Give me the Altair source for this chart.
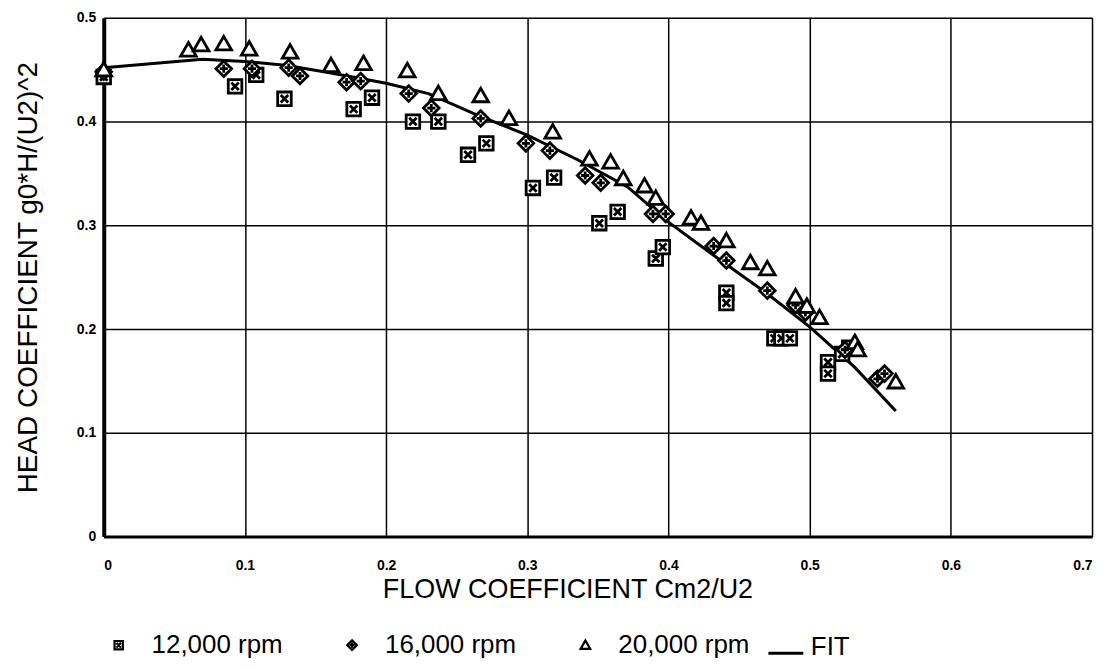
import altair as alt
import pandas as pd

# ---- data ----
x_12k = [0.0, 0.093, 0.108, 0.128, 0.177, 0.190, 0.219, 0.237, 0.258, 0.271, 0.304, 0.319,
         0.351, 0.364, 0.391, 0.396, 0.441, 0.441, 0.475, 0.480, 0.486, 0.513, 0.513, 0.523, 0.528]
y_12k = [0.443, 0.434, 0.445, 0.422, 0.412, 0.423, 0.400, 0.400, 0.368, 0.379, 0.336, 0.346,
         0.302, 0.313, 0.268, 0.279, 0.235, 0.225, 0.191, 0.191, 0.191, 0.168, 0.157, 0.176, 0.182]

x_16k = [0.0, 0.085, 0.105, 0.131, 0.139, 0.172, 0.182, 0.216, 0.232, 0.267, 0.299, 0.316,
         0.341, 0.352, 0.389, 0.398, 0.432, 0.441, 0.470, 0.490, 0.497, 0.525, 0.548, 0.553]
y_16k = [0.448, 0.451, 0.451, 0.452, 0.444, 0.438, 0.439, 0.427, 0.413, 0.403, 0.379, 0.372,
         0.348, 0.341, 0.311, 0.311, 0.280, 0.266, 0.237, 0.223, 0.216, 0.180, 0.152, 0.157]

x_20k = [0.0, 0.060, 0.069, 0.085, 0.103, 0.132, 0.161, 0.184, 0.215, 0.237, 0.267, 0.287,
         0.318, 0.344, 0.359, 0.368, 0.383, 0.391, 0.416, 0.423, 0.441, 0.458, 0.470, 0.490,
         0.498, 0.507, 0.532, 0.534, 0.561]
y_20k = [0.450, 0.469, 0.474, 0.475, 0.470, 0.467, 0.454, 0.456, 0.449, 0.427, 0.425, 0.403,
         0.390, 0.364, 0.361, 0.345, 0.338, 0.326, 0.307, 0.302, 0.285, 0.264, 0.258, 0.231,
         0.222, 0.211, 0.187, 0.180, 0.149]

x_fit = [0.0, 0.07, 0.10, 0.13, 0.16, 0.20, 0.23, 0.265, 0.30, 0.336, 0.371, 0.40, 0.43,
         0.47, 0.50, 0.532, 0.561]
y_fit = [0.452, 0.460, 0.458, 0.454, 0.447, 0.437, 0.427, 0.406, 0.387, 0.363, 0.337, 0.303,
         0.273, 0.234, 0.202, 0.163, 0.121]

series_names = ["12,000 rpm", "16,000 rpm", "20,000 rpm"]
x_ticks = [0, 0.1, 0.2, 0.3, 0.4, 0.5, 0.6, 0.7]
y_ticks = [0, 0.1, 0.2, 0.3, 0.4, 0.5]

# ---- tables ----
pts = pd.concat([
    pd.DataFrame({"x": x_12k, "y": y_12k, "series": series_names[0]}),
    pd.DataFrame({"x": x_16k, "y": y_16k, "series": series_names[1]}),
    pd.DataFrame({"x": x_20k, "y": y_20k, "series": series_names[2]}),
], ignore_index=True)
fit = pd.DataFrame({"x": x_fit, "y": y_fit, "series": "FIT"})

square_x = "M-1,-1H1V1H-1Z M-0.55,-0.55L0.55,0.55 M-0.55,0.55L0.55,-0.55"
diamond_plus = "M0,-1.15L1.15,0L0,1.15L-1.15,0Z M0,-0.6V0.6 M-0.6,0H0.6"
triangle = "M0,-1.1L1.15,0.9H-1.15Z"
fit_symbol = "M-1,0.35H1"

FONT = "Liberation Sans"

xs = alt.Scale(domain=[0, 0.7], nice=False, zero=False)
ys = alt.Scale(domain=[0, 0.5], nice=False, zero=False)

x_axis = alt.Axis(values=x_ticks, title="FLOW COEFFICIENT Cm2/U2", format="~g",
                  labelFontSize=14, labelFontWeight="bold", labelPadding=22,
                  ticks=False, grid=True, gridColor="black", gridWidth=1.5, gridOpacity=1,
                  domainColor="black", domainWidth=3,
                  titleFontSize=27, titleFontWeight="normal", titlePadding=4, titleX=465,
                  labelFont=FONT, titleFont=FONT, labelColor="black", titleColor="black")
y_axis = alt.Axis(values=y_ticks, title="HEAD COEFFICIENT g0*H/(U2)^2", format="~g",
                  labelFontSize=14, labelFontWeight="bold", labelPadding=8,
                  ticks=False, grid=True, gridColor="black", gridWidth=1.5, gridOpacity=1,
                  domainColor="black", domainWidth=4,
                  titleFontSize=28, titleFontWeight="normal", titlePadding=34,
                  labelFont=FONT, titleFont=FONT, labelColor="black", titleColor="black")

line = alt.Chart(fit).mark_line(strokeWidth=3).encode(
    x=alt.X("x:Q", scale=xs, axis=x_axis),
    y=alt.Y("y:Q", scale=ys, axis=y_axis),
    color=alt.Color("series:N", scale=alt.Scale(domain=["FIT"], range=["black"]),
                    legend=alt.Legend(title=None, orient="none", legendX=665, legendY=612,
                                      symbolType=fit_symbol, symbolSize=1225,
                                      symbolStrokeWidth=3, labelFontSize=26,
                                      labelFont=FONT, labelColor="black", labelOffset=6,
                                      padding=0)),
)

pt_legend = alt.Legend(title=None, orient="none", legendX=2, legendY=616,
                       direction="horizontal", symbolSize=70,
                       symbolFillColor="white", symbolStrokeColor="black", symbolOpacity=1,
                       symbolStrokeWidth=2.2, labelFontSize=26, labelFont=FONT,
                       labelColor="black", labelOffset=20, columnPadding=56, padding=0)

points = alt.Chart(pts).mark_point(filled=False, strokeWidth=2.8, size=185, opacity=1).encode(
    x=alt.X("x:Q", scale=xs),
    y=alt.Y("y:Q", scale=ys),
    fill=alt.value("white"),
    stroke=alt.Stroke("series:N",
                      scale=alt.Scale(domain=series_names, range=["black", "black", "black"]),
                      legend=pt_legend),
    shape=alt.Shape("series:N",
                    scale=alt.Scale(domain=series_names,
                                    range=[square_x, diamond_plus, triangle]),
                    legend=pt_legend),
)

chart = alt.layer(line, points).properties(
    width=991, height=520,
    autosize=alt.AutoSizeParams(type="none"),
    padding={"left": 96, "top": 9, "right": 12, "bottom": 125},
).configure_view(stroke="black", strokeWidth=3).configure(background="white")

chart.save("out.html", embed_options={"renderer": "svg", "actions": False})
